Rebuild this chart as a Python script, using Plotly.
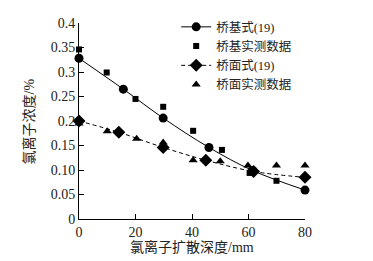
import plotly.graph_objects as go

# 桥基式(19) - model curve points
base_model_x = [0, 15.7, 29.8, 46, 61.4, 80]
base_model_y = [0.328, 0.265, 0.206, 0.146, 0.099, 0.059]
# 桥基实测数据
base_meas_x = [0, 9.8, 20, 29.8, 40.4, 50.6, 60.4, 69.9, 80.2]
base_meas_y = [0.346, 0.299, 0.245, 0.229, 0.180, 0.141, 0.094, 0.078, 0.062]
# 桥面式(19)
deck_model_x = [0, 14.1, 29.8, 44.9, 61.8, 80]
deck_model_y = [0.200, 0.177, 0.146, 0.120, 0.097, 0.085]
# 桥面实测数据
deck_meas_x = [0, 10, 20.4, 29.8, 40.4, 50, 59.8, 69.9, 80]
deck_meas_y = [0.195, 0.179, 0.164, 0.156, 0.120, 0.118, 0.109, 0.109, 0.109]

y_tickvals = [0, 0.05, 0.10, 0.15, 0.2, 0.25, 0.3, 0.35, 0.4]
y_ticktext = ["0", "0.05", "0.10", "0.15", "0.2", "0.25", "0.3", "0.35", "0.4"]
x_tickvals = [0, 20, 40, 60, 80]

FONT = "Liberation Serif, Times New Roman, Noto Sans CJK SC"

fig = go.Figure()
fig.add_trace(go.Scatter(x=base_model_x, y=base_model_y, name="桥基式(19)",
                         mode="lines+markers", line=dict(color="black", width=1, shape="spline"),
                         marker=dict(symbol="circle", size=9, color="black"), cliponaxis=False))
fig.add_trace(go.Scatter(x=base_meas_x, y=base_meas_y, name="桥基实测数据",
                         mode="markers", marker=dict(symbol="square", size=6, color="black"),
                         cliponaxis=False))
fig.add_trace(go.Scatter(x=deck_model_x, y=deck_model_y, name="桥面式(19)",
                         mode="lines+markers", line=dict(color="black", width=1, dash="4px,3px", shape="spline"),
                         marker=dict(symbol="diamond", size=10, color="black"), cliponaxis=False))
fig.add_trace(go.Scatter(x=deck_meas_x, y=deck_meas_y, name="桥面实测数据",
                         mode="markers", marker=dict(symbol="triangle-up", size=8, color="black"),
                         cliponaxis=False))

fig.update_layout(
    width=373, height=261,
    margin=dict(l=79, r=68, t=14, b=42),
    paper_bgcolor="white", plot_bgcolor="white",
    font=dict(family=FONT, size=14, color="#222"),
    showlegend=True,
    legend=dict(x=0.43, y=1.055, xanchor="left", yanchor="top", bgcolor="rgba(0,0,0,0)",
                font=dict(size=12.5), tracegroupgap=0, itemwidth=30),
    xaxis=dict(range=[0, 80], tickvals=x_tickvals, showline=True, linecolor="black", linewidth=1,
               ticks="inside", ticklen=5, tickcolor="black", showgrid=False, zeroline=False,
               tickfont=dict(size=14)),
    yaxis=dict(range=[0, 0.4], tickvals=y_tickvals, ticktext=y_ticktext, showline=True,
               linecolor="black", linewidth=1, ticks="inside", ticklen=5, tickcolor="black",
               showgrid=False, zeroline=False, tickfont=dict(size=14)),
    annotations=[
        dict(text="氯离子扩散深度/mm", xref="paper", yref="paper", x=0.5, y=-(248-219)/205,
             xanchor="center", yanchor="middle", showarrow=False, font=dict(size=14)),
        dict(text="氯离子浓度/%", xref="paper", yref="paper", x=(29-79)/226, y=(219-117)/205,
             xanchor="center", yanchor="middle", showarrow=False, textangle=-90, font=dict(size=14)),
    ],
)

fig.write_html("out.html", config={"displayModeBar": False},
               post_script="document.body.style.margin='0px';")
